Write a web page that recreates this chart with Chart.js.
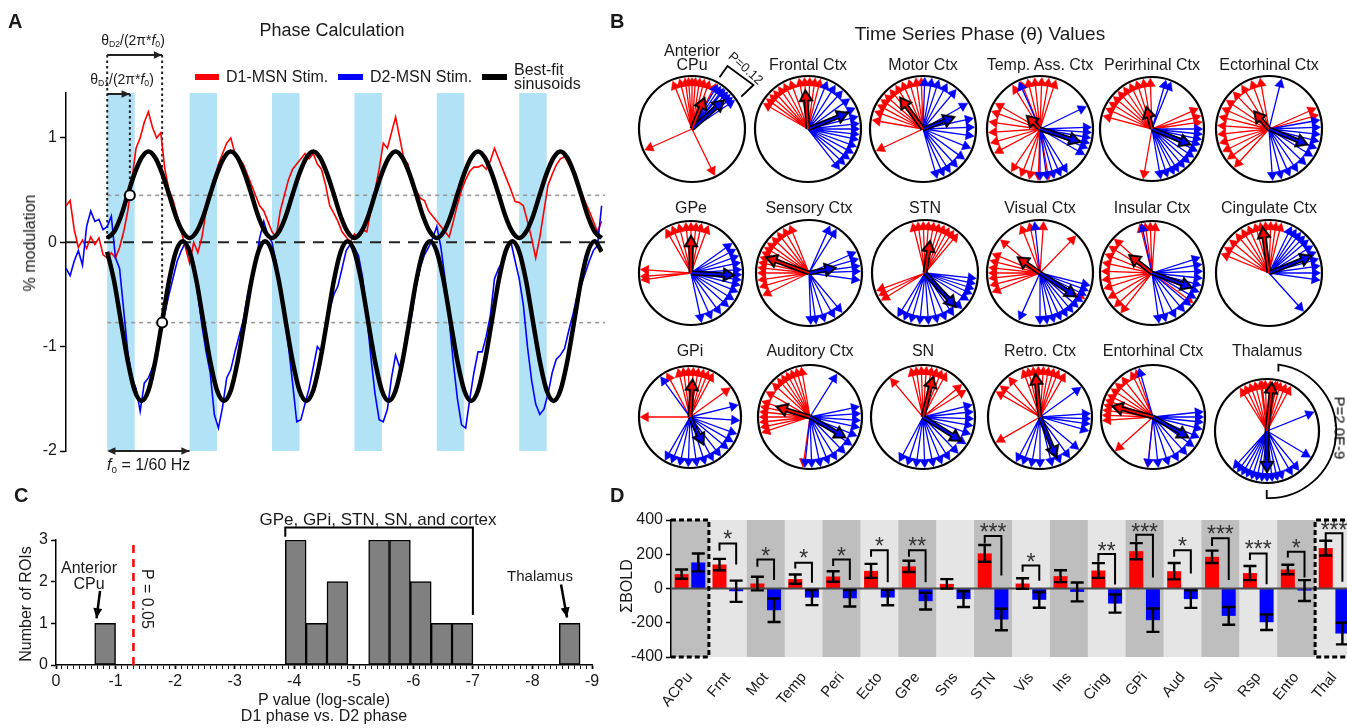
<!DOCTYPE html>
<html>
<head>
<meta charset="utf-8">
<title>Phase analysis</title>
<script src="https://cdn.jsdelivr.net/npm/chart.js@4.4.1/dist/chart.umd.min.js"></script>
<style>
  html, body { margin: 0; padding: 0; background: #fff; overflow: hidden; }
  body { position: relative; width: 1347px; height: 728px; font-family: 'Liberation Sans', Arial, sans-serif; color: #1a1a1a; }
  canvas { position: absolute; }
  .t { position: absolute; white-space: nowrap; line-height: 1; transform: translate(-50%, -50%); }
  .l { position: absolute; white-space: nowrap; line-height: 1; transform: translateY(-50%); }
  .letter { position: absolute; font-weight: bold; font-size: 20px; line-height: 1; }
  .sw { position: absolute; }
  sub { font-size: 0.62em; vertical-align: -0.25em; }
</style>
</head>
<body>
<canvas id="phaseChart" width="620" height="480" style="left:0px;top:0px"></canvas>
<canvas id="histChart" width="620" height="248" style="left:0px;top:480px"></canvas>
<canvas id="boldChart" width="740" height="248" style="left:620px;top:480px"></canvas>
<div id="compassLayer"></div>

<!-- panel A text -->
<div class="letter" style="left:8px;top:11px">A</div>
<div class="t" style="left:332px;top:30px;font-size:18px">Phase Calculation</div>
<div class="t" style="left:133px;top:41px;font-size:14px">θ<sub>D2</sub>/(2π*<i>f</i><sub>0</sub>)</div>
<div class="t" style="left:122px;top:80px;font-size:14px">θ<sub>D1</sub>/(2π*<i>f</i><sub>0</sub>)</div>
<div class="sw" style="left:195px;top:74px;width:24px;height:6px;background:#ff0000"></div>
<div class="l" style="left:226px;top:77px;font-size:16px">D1-MSN Stim.</div>
<div class="sw" style="left:338px;top:74px;width:25px;height:6px;background:#0000ff"></div>
<div class="l" style="left:370px;top:77px;font-size:16px">D2-MSN Stim.</div>
<div class="sw" style="left:482px;top:74px;width:25px;height:6px;background:#000"></div>
<div class="l" style="left:514px;top:77px;font-size:16px;line-height:0.85">Best-fit<br>sinusoids</div>
<div class="t" style="left:30px;top:243px;font-size:16px;transform:translate(-50%,-50%) rotate(-90deg)">% modulation</div>
<div class="l" style="left:107px;top:466px;font-size:16px"><i>f</i><sub>0</sub> = 1/60 Hz</div>

<!-- panel B text -->
<div class="letter" style="left:610px;top:11px">B</div>
<div class="t" style="left:980px;top:33px;font-size:19px">Time Series Phase (θ) Values</div>
<div class="t" style="left:746px;top:68px;font-size:13px;transform:translate(-50%,-50%) rotate(42deg)">P=0.12</div>
<div class="t" style="left:1340px;top:428px;font-size:15px;color:#000;transform:translate(-50%,-50%) rotate(90deg)">P=2.0E-9</div>

<!-- panel C text -->
<div class="letter" style="left:14px;top:485px">C</div>
<div class="t" style="left:378px;top:519px;font-size:17px">GPe, GPi, STN, SN, and cortex</div>
<div class="t" style="left:89px;top:568px;font-size:16px">Anterior</div>
<div class="t" style="left:89px;top:584px;font-size:16px">CPu</div>
<div class="t" style="left:147px;top:599px;font-size:16px;transform:translate(-50%,-50%) rotate(90deg)">P = 0.05</div>
<div class="t" style="left:540px;top:575px;font-size:15px">Thalamus</div>
<div class="t" style="left:26px;top:604px;font-size:16px;transform:translate(-50%,-50%) rotate(-90deg)">Number of ROIs</div>
<div class="t" style="left:324px;top:700px;font-size:16px">P value (log-scale)</div>
<div class="t" style="left:324px;top:716px;font-size:16px">D1 phase vs. D2 phase</div>

<!-- panel D text -->
<div class="letter" style="left:610px;top:485px">D</div>
<div class="t" style="left:627px;top:586px;font-size:16px;transform:translate(-50%,-50%) rotate(-90deg)">ΣBOLD</div>

<script>
// ---------- panel A: phase calculation ----------
const stimOnsets = [0, 60, 120, 180, 240, 300];
const stimLength = 20;
const traceStart = -30, traceStep = 3;
const d1Trace = [
  0.35, 0.40, 0.12, -0.05, 0.02, -0.06, 0.05, -0.02, 0.04, -0.12,
  -0.15, -0.10, -0.15, -0.05, 0.10, 0.30, 0.60, 0.90, 1.00, 1.15, 1.25, 1.10, 1.00, 1.05, 0.70, 0.50, 0.40, 0.25, 0.10, -0.05,
  -0.20, 0.00, -0.10, 0.05, 0.30, 0.45, 0.60, 0.75, 0.85, 0.95, 1.00, 0.85, 0.80, 0.75, 0.65, 0.55, 0.45, 0.35, 0.30, 0.20,
  0.10, 0.05, 0.30, 0.45, 0.60, 0.70, 0.75, 0.80, 0.85, 0.80, 0.85, 0.75, 0.70, 0.55, 0.35, 0.28, 0.20, 0.10, 0.05, 0.00,
  0.08, 0.05, 0.12, 0.10, 0.30, 0.50, 0.70, 0.95, 0.90, 1.05, 1.20, 1.00, 0.80, 0.75, 0.55, 0.50, 0.42, 0.40, 0.30, 0.25,
  0.20, 0.15, 0.10, 0.05, 0.20, 0.36, 0.50, 0.60, 0.68, 0.72, 0.72, 0.74, 0.70, 0.78, 0.90, 0.80, 0.70, 0.60, 0.50, 0.39,
  0.38, 0.35, 0.20, 0.04, -0.15, 0.05, 0.30, 0.55, 0.65, 0.74, 0.80, 0.82, 0.75, 0.70, 0.58, 0.48, 0.39, 0.30, 0.20, 0.10,
  0.20
];
const d2Trace = [
  -0.25, -0.32, -0.18, -0.08, -0.22, 0.15, 0.30, 0.20, 0.22, 0.12,
  0.15, 0.25, -0.15, -0.25, -0.65, -1.05, -1.30, -1.40, -1.62, -1.35, -1.30, -1.20, -1.10, -0.85, -0.68, -0.50, -0.34, -0.18, -0.08, 0.00,
  -0.05, -0.20, -0.50, -0.80, -1.05, -1.25, -1.65, -1.78, -1.58, -1.30, -1.22, -1.05, -0.90, -0.75, -0.52, -0.34, -0.20, 0.04, 0.20, 0.07,
  0.00, -0.20, -0.45, -0.72, -1.00, -1.35, -1.72, -1.70, -1.55, -1.40, -1.20, -1.00, -1.05, -0.80, -0.65, -0.50, -0.42, -0.25, -0.08, -0.02,
  -0.05, -0.13, -0.34, -0.70, -1.10, -1.45, -1.70, -1.72, -1.60, -1.30, -1.08, -1.20, -1.05, -0.90, -0.68, -0.42, -0.24, -0.12, -0.05, 0.04,
  0.15, -0.05, -0.35, -0.75, -1.15, -1.50, -1.75, -1.78, -1.50, -1.25, -1.05, -1.05, -0.90, -0.70, -0.35, -0.25, -0.18, -0.08, 0.00, -0.18,
  -0.35, -0.60, -1.00, -1.32, -1.55, -1.65, -1.60, -1.45, -1.25, -1.12, -1.08, -1.02, -0.85, -0.70, -0.52, -0.42, -0.30, -0.18, -0.08, -0.03,
  0.35
];
const fitStep = 5;
const d1Fit = [
  0.04, 0.10, 0.25, 0.46, 0.66, 0.81, 0.87, 0.81, 0.66, 0.46, 0.25, 0.10,
  0.04, 0.10, 0.25, 0.46, 0.66, 0.81, 0.87, 0.81, 0.66, 0.46, 0.25, 0.10,
  0.04, 0.10, 0.25, 0.46, 0.66, 0.81, 0.87, 0.81, 0.66, 0.46, 0.25, 0.10,
  0.04, 0.10, 0.25, 0.46, 0.66, 0.81, 0.87, 0.81, 0.66, 0.46, 0.25, 0.10,
  0.04, 0.10, 0.25, 0.46, 0.66, 0.81, 0.87, 0.81, 0.66, 0.46, 0.25, 0.10,
  0.04, 0.10, 0.25, 0.46, 0.66, 0.81, 0.87, 0.81, 0.66, 0.46, 0.25, 0.10,
  0.04
];
const d2Fit = [
  -0.09, -0.37, -0.76, -1.14, -1.42, -1.52, -1.42, -1.14, -0.76, -0.37, -0.09, 0.01,
  -0.09, -0.37, -0.76, -1.14, -1.42, -1.52, -1.42, -1.14, -0.76, -0.37, -0.09, 0.01,
  -0.09, -0.37, -0.76, -1.14, -1.42, -1.52, -1.42, -1.14, -0.76, -0.37, -0.09, 0.01,
  -0.09, -0.37, -0.76, -1.14, -1.42, -1.52, -1.42, -1.14, -0.76, -0.37, -0.09, 0.01,
  -0.09, -0.37, -0.76, -1.14, -1.42, -1.52, -1.42, -1.14, -0.76, -0.37, -0.09, 0.01,
  -0.09, -0.37, -0.76, -1.14, -1.42, -1.52, -1.42, -1.14, -0.76, -0.37, -0.09, 0.01,
  -0.09
];
const fitMeans = [0.45, -0.77];
const phaseMarkers = [{x: 16.5, y: 0.45}, {x: 40, y: -0.77}];

// ---------- panel B: phase vectors (degrees, counter-clockwise from east) ----------
const compassTitles = ['Anterior CPu', 'Frontal Ctx', 'Motor Ctx', 'Temp. Ass. Ctx', 'Perirhinal Ctx', 'Ectorhinal Ctx',
  'GPe', 'Sensory Ctx', 'STN', 'Visual Ctx', 'Insular Ctx', 'Cingulate Ctx',
  'GPi', 'Auditory Ctx', 'SN', 'Retro. Ctx', 'Entorhinal Ctx', 'Thalamus'];
const d1Phases = [
  [112, 104, 98, 94, 90, 86, 81, 76, 70, 62, 204, 296],
  [150, 144, 138, 132, 125, 118, 110, 100, 94, 88, 82, 76],
  [160, 152, 145, 138, 130, 122, 114, 106, 98, 92, 170, 205],
  [122, 112, 104, 96, 88, 80, 72, 150, 160, 172, 184, 196, 208, 236, 248, 258, 268, 280],
  [165, 156, 148, 140, 132, 124, 116, 108, 100, 92, 24, 15, 8, 260],
  [100, 110, 122, 134, 146, 156, 166, 176, 186, 196, 206, 216, 228, 24, 16],
  [120, 112, 104, 96, 90, 84, 78, 70, 176, 184, 188],
  [112, 120, 128, 136, 144, 150, 156, 162, 168, 174, 180, 188, 196, 206],
  [104, 98, 92, 86, 80, 74, 68, 62, 56, 50, 200, 206, 212],
  [112, 102, 86, 46, 140, 158, 166, 174, 180, 186, 194, 202, 330],
  [104, 98, 92, 86, 138, 148, 158, 168, 178, 188, 198, 210, 222, 232, 324],
  [122, 114, 106, 100, 94, 88, 82, 76, 130, 140, 150, 158],
  [98, 92, 86, 80, 74, 68, 62, 104, 118, 36, 180],
  [100, 106, 112, 118, 124, 130, 138, 150, 162, 168, 174, 180, 186, 192, 198, 262],
  [104, 98, 92, 86, 80, 74, 68, 62, 130, 40, 32],
  [110, 104, 98, 92, 86, 80, 74, 68, 128, 142, 150, 210, 60],
  [116, 110, 128, 138, 146, 154, 160, 166, 172, 178, 184, 222, 264],
  [62, 68, 74, 80, 86, 92, 98, 104, 110, 116, 122, 78, 96]
];
const d2Phases = [
  [56, 50, 46, 42, 38, 34, 52, 60],
  [68, 58, 48, 36, 24, 14, 6, 0, -6, -12, -20, -28, -36, -44, -52],
  [88, 80, 72, 62, 50, 30, 12, 2, -8, -22, -36, -48, -58, -66, -74],
  [114, 26, 2, -4, -10, -16, -22, -30, -58, -66, -74, -82, -90],
  [74, 68, 0, -6, -12, -18, -26, -34, -42, -50, -58, -64, -72, -80],
  [76, 10, 2, -6, -14, -22, -32, -44, -56, -66, -76, -86],
  [36, 28, 20, 12, 4, -2, -8, -14, -22, -32, -42, -54, -66, -78],
  [66, 58, 24, 16, 8, 2, -8, -50, -60, -72, -82, -88],
  [-6, -12, -18, -24, -32, -44, -56, -66, -76, -86, -96, -106, -114, -122],
  [96, -14, -20, -26, -34, -42, -50, -58, -66, -74, -82, -90, 246],
  [102, 18, 10, 2, -6, -14, -22, -30, -40, -50, -62, -74, -82],
  [64, 58, 52, 46, 40, 32, 24, 16, 8, 0, -8, -48],
  [126, 14, -4, -20, -30, -40, -52, -62, -72, -82, -92, -102, -112, -120],
  [58, 12, 4, -4, -12, -22, -34, -46, -58, -68, -78, -88, -96],
  [14, 6, -2, -10, -20, -32, -46, -58, -68, -78, -88, -98, -108, -118],
  [36, 4, -2, -8, -16, -40, -54, -66, -76, -90, -100, -110, -118],
  [106, 6, 0, -6, -14, -24, -36, -48, -60, -72, -84, -96],
  [22, -31, -51, -60, -84, -90, -96, -102, -108, -114, -120, -126, -132, -78, -72]
];
// mean vectors: [angle, length]
const d1MeanVec = [[68, 0.5], [94, 0.6], [126, 0.6], [135, 0.22], [104, 0.3], [130, 0.3], [90, 0.58], [160, 0.73], [81, 0.48],
  [145, 0.38], [142, 0.42], [98, 0.74], [86, 0.6], [163, 0.54], [76, 0.66], [96, 0.7], [165, 0.68], [84, 0.8]];
const d2MeanVec = [[42, 0.68], [22, 0.68], [21, 0.5], [-18, 0.66], [-22, 0.66], [-22, 0.65], [-3, 0.7], [11, 0.38], [-48, 0.73],
  [-33, 0.68], [-20, 0.68], [22, 0.73], [-64, 0.46], [-30, 0.65], [-32, 0.73], [-68, 0.7], [-30, 0.65], [-90, 0.66]];
const phaseArrowLength = 0.87;

// ---------- panel C: histogram of log10 P ----------
const histBinWidth = 0.35;
const histCenters = [-0.825, -4.025, -4.375, -4.725, -5.425, -5.775, -6.125, -6.475, -6.825, -8.625];
const histCounts = [1, 3, 1, 2, 3, 3, 2, 1, 1, 1];
const pThreshold = -1.3;

// ---------- panel D: summed BOLD ----------
const regions = ['ACPu', 'Frnt', 'Mot', 'Temp', 'Peri', 'Ecto', 'GPe', 'Sns', 'STN', 'Vis', 'Ins', 'Cing', 'GPi', 'Aud', 'SN', 'Rsp', 'Ento', 'Thal'];
const d1Bold = [84, 140, 29, 55, 70, 103, 129, 27, 205, 29, 72, 105, 218, 101, 185, 90, 111, 236];
const d1BoldSem = [27, 33, 40, 27, 31, 41, 33, 28, 49, 31, 35, 43, 47, 48, 36, 41, 28, 43];
const d2Bold = [152, -16, -127, -53, -57, -53, -74, -62, -181, -66, -20, -88, -185, -62, -160, -197, -12, -263];
const d2BoldSem = [52, 62, 69, 44, 48, 45, 49, 46, 63, 46, 55, 53, 68, 51, 52, 45, 61, 63];
const sigStars = ['', '*', '*', '*', '*', '*', '**', '', '***', '*', '', '**', '***', '*', '***', '***', '*', '***'];
const bracketTop = [null, 263, 170, 150, 170, 224, 224, null, 306, 135, null, 201, 314, 224, 293, 205, 215, 322];
const bracketLeftEnd = [null, 220, 127, 117, 131, 185, 185, null, 263, 98, null, 156, 273, 185, 248, 166, 181, 283];
const bracketRightEnd = [null, 140, 49, 33, 49, 37, 37, null, 76, 45, null, 23, 64, 88, 49, 25, 64, 40];
const starLevel = [null, 312, 215, 205, 215, 273, 273, null, 357, 181, null, 244, 357, 273, 341, 254, 263, 365];

Chart.defaults.font.family = "'Liberation Sans', Arial, sans-serif";
Chart.defaults.font.size = 16;
Chart.defaults.color = '#1a1a1a';
Chart.defaults.animation = false;
Chart.defaults.events = [];
Chart.defaults.plugins.legend.display = false;
Chart.defaults.plugins.tooltip.enabled = false;

function pairs(xs, ys) {
  return xs.map((x, i) => ({x: x, y: ys[i]}));
}

function arrowHead(ctx, x0, y0, x1, y1, size) {
  const ang = Math.atan2(y1 - y0, x1 - x0);
  ctx.beginPath();
  ctx.moveTo(x1, y1);
  ctx.lineTo(x1 - size * Math.cos(ang - 0.42), y1 - size * Math.sin(ang - 0.42));
  ctx.lineTo(x1 - size * Math.cos(ang + 0.42), y1 - size * Math.sin(ang + 0.42));
  ctx.closePath();
  ctx.fill();
}

function arrow(ctx, x0, y0, x1, y1, size) {
  ctx.beginPath();
  ctx.moveTo(x0, y0);
  ctx.lineTo(x1, y1);
  ctx.stroke();
  arrowHead(ctx, x0, y0, x1, y1, size);
}

// stimulation blocks, reference levels and phase arrows of panel A
const phaseNotes = {
  id: 'phaseNotes',
  beforeDatasetsDraw(chart) {
    const {ctx, chartArea: a, scales: {x, y}} = chart;
    ctx.save();
    ctx.fillStyle = '#b1e2f5';
    stimOnsets.forEach(t0 => {
      const x0 = x.getPixelForValue(t0), x1 = x.getPixelForValue(t0 + stimLength);
      ctx.fillRect(x0, a.top, x1 - x0, a.bottom - a.top);
    });
    ctx.strokeStyle = '#222';
    ctx.lineWidth = 2;
    ctx.setLineDash([11, 8]);
    ctx.beginPath();
    ctx.moveTo(a.left, y.getPixelForValue(0));
    ctx.lineTo(a.right + 2, y.getPixelForValue(0));
    ctx.stroke();
    ctx.strokeStyle = '#999';
    ctx.lineWidth = 1.6;
    ctx.setLineDash([4, 4]);
    fitMeans.forEach(m => {
      ctx.beginPath();
      ctx.moveTo(x.getPixelForValue(0), y.getPixelForValue(m));
      ctx.lineTo(a.right + 2, y.getPixelForValue(m));
      ctx.stroke();
    });
    // dotted guides from the phase arrows
    ctx.strokeStyle = '#222';
    ctx.lineWidth = 2;
    ctx.setLineDash([2.5, 3]);
    const guides = [[0, 55, 0], [phaseMarkers[0].x, 94, phaseMarkers[0].y], [phaseMarkers[1].x, 55, phaseMarkers[1].y]];
    guides.forEach(g => {
      ctx.beginPath();
      ctx.moveTo(x.getPixelForValue(g[0]), g[1]);
      ctx.lineTo(x.getPixelForValue(g[0]), y.getPixelForValue(g[2]));
      ctx.stroke();
    });
    ctx.setLineDash([]);
    ctx.fillStyle = '#222';
    arrow(ctx, x.getPixelForValue(0), 55, x.getPixelForValue(phaseMarkers[1].x), 55, 9);
    arrow(ctx, x.getPixelForValue(0), 94, x.getPixelForValue(phaseMarkers[0].x), 94, 9);
    // one period
    const f0 = [x.getPixelForValue(0), x.getPixelForValue(60)];
    arrow(ctx, f0[0] + 4, a.bottom, f0[1], a.bottom, 9);
    arrowHead(ctx, f0[1], a.bottom, f0[0], a.bottom, 9);
    ctx.restore();
  }
};

new Chart(document.getElementById('phaseChart'), {
  type: 'line',
  data: {
    datasets: [
      {data: phaseMarkers, showLine: false, pointRadius: 5, pointBackgroundColor: '#fff', pointBorderColor: '#000', pointBorderWidth: 2},
      {data: pairs(d1Fit.map((_, i) => i * fitStep), d1Fit), borderColor: '#000', borderWidth: 4.5, pointRadius: 0, cubicInterpolationMode: 'monotone'},
      {data: pairs(d2Fit.map((_, i) => i * fitStep), d2Fit), borderColor: '#000', borderWidth: 4.5, pointRadius: 0, cubicInterpolationMode: 'monotone'},
      {data: pairs(d2Trace.map((_, i) => traceStart + i * traceStep), d2Trace), borderColor: '#0000ff', borderWidth: 1.6, pointRadius: 0},
      {data: pairs(d1Trace.map((_, i) => traceStart + i * traceStep), d1Trace), borderColor: '#ff0000', borderWidth: 1.6, pointRadius: 0}
    ]
  },
  options: {
    responsive: false,
    layout: {padding: {left: 0, right: 17, top: 93, bottom: 29}},
    scales: {
      x: {type: 'linear', display: false, min: -30, max: 361},
      y: {
        min: -2, max: 1.43,
        afterFit: s => { s.width = 66; },
        ticks: {stepSize: 1, includeBounds: false, padding: 3},
        grid: {drawOnChartArea: false, tickLength: 6, tickWidth: 1.5, tickColor: '#000'},
        border: {color: '#000', width: 1.5}
      }
    }
  },
  plugins: [phaseNotes]
});

// ---------- panel B ----------
const compassCenters = [[692, 129], [808, 129], [923, 129], [1040, 129], [1152, 129], [1269, 129],
  [691, 273], [809, 273], [925, 273], [1040, 273], [1152, 273], [1269, 273],
  [690, 417], [810, 417], [923, 417], [1040, 417], [1153, 417], [1267, 431]];
const compassRadius = [53, 53, 53, 53, 52, 53, 52, 53, 53, 53, 52, 53, 51, 52, 52, 52, 52, 52];
const compassTitleY = [0, 65, 65, 65, 65, 65, 208, 208, 208, 208, 208, 208, 351, 351, 351, 351, 351, 351];

function arrowPoints(vectors) {
  const pts = [];
  vectors.forEach(v => {
    const rad = v[0] * Math.PI / 180;
    pts.push({x: 0, y: 0}, {x: v[1] * Math.cos(rad), y: v[1] * Math.sin(rad), a: v[0], tip: true}, {x: null, y: null});
  });
  return pts;
}

function arrowSet(points, color, width, head) {
  return {
    data: points,
    showLine: true,
    borderColor: color,
    borderWidth: width,
    pointStyle: 'triangle',
    pointRadius: c => (c.raw && c.raw.tip) ? head : 0,
    pointRotation: c => (c.raw && c.raw.tip) ? 90 - c.raw.a : 0,
    pointBackgroundColor: color,
    pointBorderColor: color,
    pointBorderWidth: 0.5,
    clip: false
  };
}

function compassFrame(note) {
  return {
    id: 'compassFrame',
    beforeDatasetsDraw(chart) {
      const {ctx, chartArea: a, scales: {x, y}} = chart;
      ctx.save();
      ctx.strokeStyle = '#000';
      ctx.lineWidth = 2.2;
      ctx.beginPath();
      ctx.ellipse((a.left + a.right) / 2, (a.top + a.bottom) / 2, (a.right - a.left) / 2, (a.bottom - a.top) / 2, 0, 0, Math.PI * 2);
      ctx.stroke();
      ctx.lineWidth = 1.8;
      if (note === 'cpu') {
        const pts = [[0.52, 0.975], [0.67, 1.19], [1.16, 0.83], [0.93, 0.61]];
        ctx.beginPath();
        pts.forEach((p, i) => {
          const px = x.getPixelForValue(p[0]), py = y.getPixelForValue(p[1]);
          if (i === 0) ctx.moveTo(px, py); else ctx.lineTo(px, py);
        });
        ctx.stroke();
      }
      if (note === 'thal') {
        const cx = x.getPixelForValue(0.04), cy = y.getPixelForValue(0);
        const r = x.getPixelForValue(1.29) - x.getPixelForValue(0);
        const s = -82 * Math.PI / 180, e = 92 * Math.PI / 180;
        ctx.beginPath();
        ctx.moveTo(cx + r * Math.cos(s), cy + r * Math.sin(s) + 7);
        ctx.lineTo(cx + r * Math.cos(s), cy + r * Math.sin(s));
        ctx.arc(cx, cy, r, s, e);
        ctx.lineTo(cx + r * Math.cos(e), cy + r * Math.sin(e) - 8);
        ctx.stroke();
      }
      ctx.restore();
    }
  };
}

const layer = document.getElementById('compassLayer');
compassTitles.forEach((title, i) => {
  const [cx, cy] = compassCenters[i];
  const r = compassRadius[i];
  const size = 170;
  const pad = size / 2 - r;
  const canvas = document.createElement('canvas');
  canvas.width = size;
  canvas.height = size;
  canvas.style.left = (cx - size / 2) + 'px';
  canvas.style.top = (cy - size / 2) + 'px';
  layer.appendChild(canvas);

  const label = document.createElement('div');
  label.className = 't';
  label.style.fontSize = '16px';
  label.style.left = cx + 'px';
  if (i === 0) {
    label.style.top = '58px';
    label.style.textAlign = 'center';
    label.style.lineHeight = '0.9';
    label.innerHTML = 'Anterior<br>CPu';
  } else {
    label.style.top = compassTitleY[i] + 'px';
    label.textContent = title;
  }
  layer.appendChild(label);

  new Chart(canvas, {
    type: 'scatter',
    data: {
      datasets: [
        arrowSet(arrowPoints([d1MeanVec[i]]), '#ff0000', 1.8, 4.5),
        arrowSet(arrowPoints([d2MeanVec[i]]), '#0000ff', 1.8, 4.5),
        arrowSet(arrowPoints([d1MeanVec[i], d2MeanVec[i]]), '#000', 5, 8.5),
        arrowSet(arrowPoints(d2Phases[i].map(a => [a, phaseArrowLength])), '#0000ff', 1.3, 5.5),
        arrowSet(arrowPoints(d1Phases[i].map(a => [a, phaseArrowLength])), '#ff0000', 1.3, 5.5)
      ]
    },
    options: {
      responsive: false,
      layout: {padding: {left: pad, right: pad, top: pad, bottom: pad}},
      scales: {
        x: {type: 'linear', display: false, min: -1, max: 1},
        y: {type: 'linear', display: false, min: -1, max: 1}
      }
    },
    plugins: [compassFrame(i === 0 ? 'cpu' : (i === 17 ? 'thal' : null))]
  });
});

// ---------- panel C ----------
const histNotes = {
  id: 'histNotes',
  afterDatasetsDraw(chart) {
    const {ctx, scales: {x, y}} = chart;
    const px = v => x.getPixelForValue(v), py = v => y.getPixelForValue(v);
    ctx.save();
    ctx.strokeStyle = '#ff0000';
    ctx.lineWidth = 2.5;
    ctx.setLineDash([8, 6]);
    ctx.beginPath();
    ctx.moveTo(px(pThreshold), py(0));
    ctx.lineTo(px(pThreshold), py(2.98));
    ctx.stroke();
    ctx.setLineDash([]);
    ctx.strokeStyle = '#000';
    ctx.fillStyle = '#000';
    ctx.lineWidth = 2.5;
    arrow(ctx, px(-0.74), py(1.78), px(-0.68), py(1.12), 11);
    arrow(ctx, px(-8.48), py(1.93), px(-8.58), py(1.14), 11);
    ctx.lineWidth = 2;
    ctx.beginPath();
    ctx.moveTo(px(-3.85), py(3.08));
    ctx.lineTo(px(-3.85), py(3.3));
    ctx.lineTo(px(-7.0), py(3.3));
    ctx.lineTo(px(-7.0), py(1.2));
    ctx.stroke();
    ctx.restore();
  }
};

new Chart(document.getElementById('histChart'), {
  type: 'bar',
  data: {
    datasets: [{
      data: pairs(histCenters, histCounts),
      backgroundColor: '#808080',
      borderColor: '#000',
      borderWidth: 1.5,
      borderSkipped: false,
      barThickness: histBinWidth * (620 - 28 - 56) / 9
    }]
  },
  options: {
    responsive: false,
    layout: {padding: {left: 0, right: 28, top: 60, bottom: 0}},
    scales: {
      x: {
        type: 'linear', min: -9, max: 0, reverse: true, offset: false,
        afterFit: s => { s.height = 63; },
        ticks: {
          stepSize: 0.1, autoSkip: false, maxRotation: 0, padding: 3,
          callback: v => Math.abs(v - Math.round(v)) < 1e-6 ? String(Math.round(v)) : ''
        },
        grid: {
          drawOnChartArea: false, offset: false, tickLength: 4, tickColor: '#000',
          tickWidth: c => (c.tick && Math.abs(c.tick.value - Math.round(c.tick.value)) < 1e-6) ? 1.8 : 0.9
        },
        border: {color: '#000', width: 1.5}
      },
      y: {
        min: 0, max: 3,
        afterFit: s => { s.width = 56; },
        ticks: {stepSize: 1, padding: 3},
        grid: {drawOnChartArea: false, tickLength: 5, tickColor: '#000', tickWidth: 1.5},
        border: {color: '#000', width: 1.5}
      }
    }
  },
  plugins: [histNotes]
});

// ---------- panel D ----------
const boxedRegions = [0, 17];
const boldDecor = {
  id: 'boldDecor',
  beforeDraw(chart) {
    const {ctx, chartArea: a} = chart;
    const w = (a.right - a.left) / regions.length;
    ctx.save();
    regions.forEach((_, i) => {
      ctx.fillStyle = i % 2 === 0 ? '#bebebe' : '#e5e5e5';
      ctx.fillRect(a.left + i * w, a.top, w + 0.5, a.bottom - a.top);
    });
    ctx.restore();
  },
  afterDatasetsDraw(chart) {
    const {ctx, chartArea: a, scales: {y}} = chart;
    const red = chart.getDatasetMeta(0).data, blue = chart.getDatasetMeta(1).data;
    const w = (a.right - a.left) / regions.length;
    ctx.save();
    ctx.strokeStyle = '#4a4a4a';
    ctx.lineWidth = 2;
    ctx.beginPath();
    ctx.moveTo(a.left, y.getPixelForValue(0));
    ctx.lineTo(a.right, y.getPixelForValue(0));
    ctx.stroke();

    ctx.strokeStyle = '#000';
    ctx.lineWidth = 2.4;
    const errBar = (xp, v, e) => {
      const y0 = y.getPixelForValue(v - e), y1 = y.getPixelForValue(v + e);
      ctx.beginPath();
      ctx.moveTo(xp, y0); ctx.lineTo(xp, y1);
      ctx.moveTo(xp - 6.5, y0); ctx.lineTo(xp + 6.5, y0);
      ctx.moveTo(xp - 6.5, y1); ctx.lineTo(xp + 6.5, y1);
      ctx.stroke();
    };
    regions.forEach((_, i) => {
      errBar(red[i].x, d1Bold[i], d1BoldSem[i]);
      errBar(blue[i].x, d2Bold[i], d2BoldSem[i]);
    });

    ctx.lineWidth = 2;
    ctx.font = "23px 'Liberation Sans', Arial, sans-serif";
    ctx.textAlign = 'center';
    ctx.textBaseline = 'middle';
    ctx.fillStyle = '#333';
    regions.forEach((_, i) => {
      if (bracketTop[i] === null) return;
      const xl = red[i].x, xr = blue[i].x, yt = y.getPixelForValue(bracketTop[i]);
      ctx.beginPath();
      ctx.moveTo(xl, y.getPixelForValue(bracketLeftEnd[i]));
      ctx.lineTo(xl, yt);
      ctx.lineTo(xr, yt);
      ctx.lineTo(xr, y.getPixelForValue(bracketRightEnd[i]));
      ctx.stroke();
      ctx.fillText(sigStars[i], (xl + xr) / 2, y.getPixelForValue(starLevel[i]) + 6);
    });

    ctx.setLineDash([5, 3]);
    ctx.lineWidth = 3;
    boxedRegions.forEach(i => {
      const x0 = a.left + i * w, x1 = x0 + w;
      ctx.beginPath();
      if (i === 0) {
        ctx.moveTo(x0, a.top); ctx.lineTo(x1, a.top); ctx.lineTo(x1, a.bottom); ctx.lineTo(x0, a.bottom);
      } else {
        ctx.moveTo(x1, a.top); ctx.lineTo(x0, a.top); ctx.lineTo(x0, a.bottom); ctx.lineTo(x1, a.bottom);
      }
      ctx.stroke();
    });
    ctx.restore();
  }
};

new Chart(document.getElementById('boldChart'), {
  type: 'bar',
  data: {
    labels: regions,
    datasets: [
      {data: d1Bold, backgroundColor: '#ff0000', categoryPercentage: 0.88, barPercentage: 0.84},
      {data: d2Bold, backgroundColor: '#0000ff', categoryPercentage: 0.88, barPercentage: 0.84}
    ]
  },
  options: {
    responsive: false,
    layout: {padding: {left: 0, right: 7, top: 40, bottom: 0}},
    scales: {
      x: {
        afterFit: s => { s.height = 71; },
        grid: {display: false},
        border: {display: false},
        ticks: {minRotation: 50, maxRotation: 50, padding: 4, autoSkip: false, font: {size: 15}}
      },
      y: {
        min: -400, max: 400,
        afterFit: s => { s.width = 51; },
        ticks: {stepSize: 200, padding: 3},
        grid: {drawOnChartArea: false, tickLength: 5, tickColor: '#000', tickWidth: 1.5},
        border: {color: '#000', width: 1.5}
      }
    }
  },
  plugins: [boldDecor]
});
</script>
</body>
</html>
